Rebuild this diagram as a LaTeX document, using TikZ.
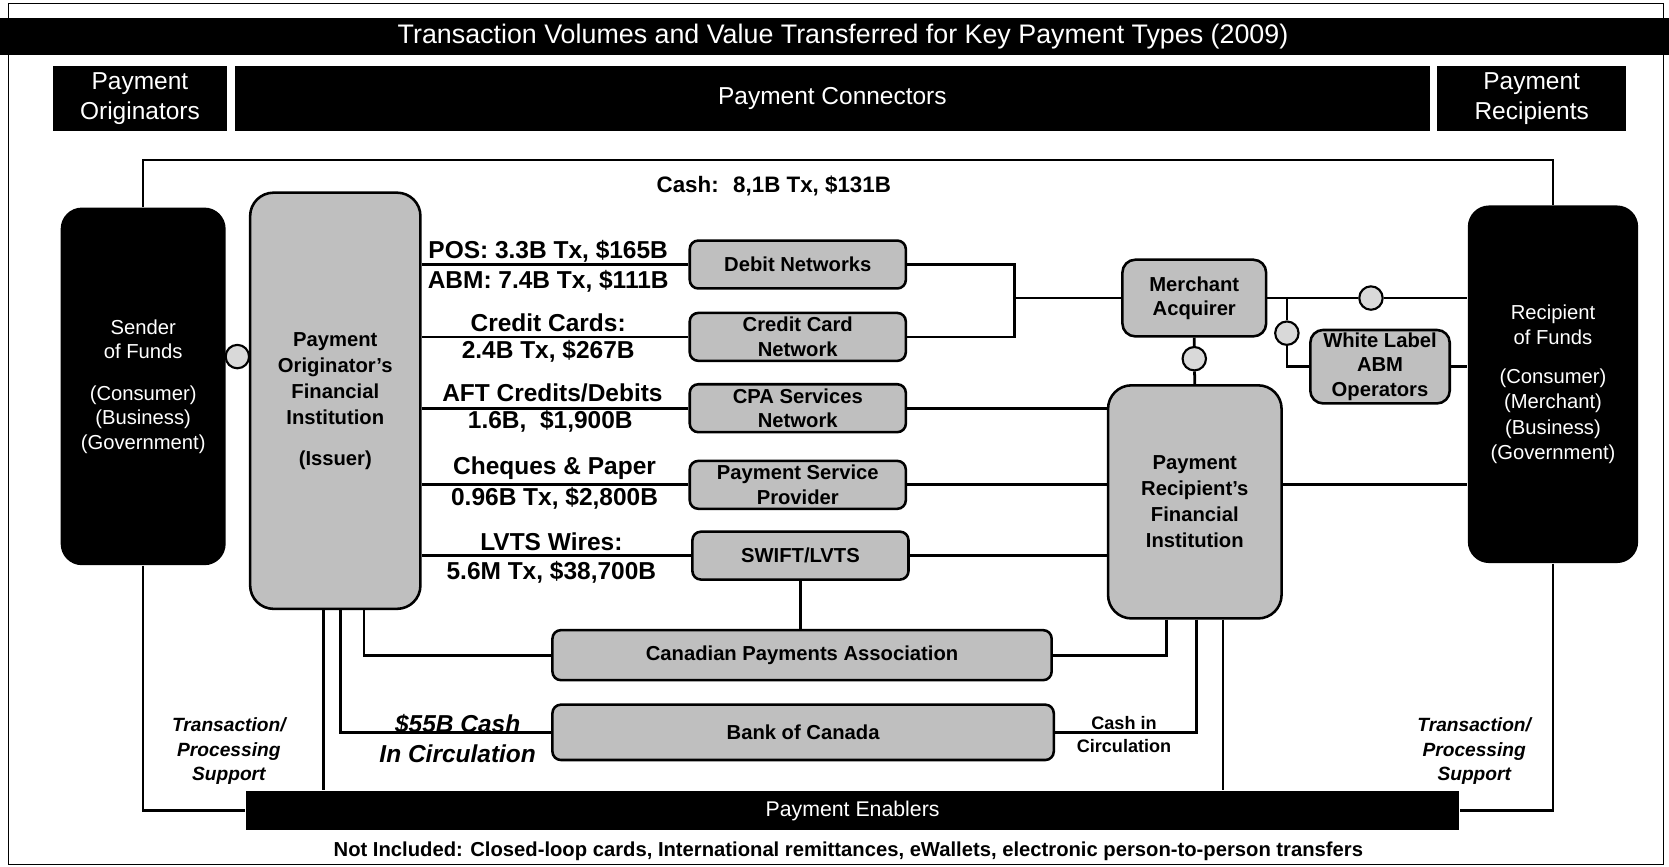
\documentclass[tikz,border=0pt]{standalone}
\usepackage{fontspec}
\setmainfont{Liberation Sans}
\begin{document}
\begin{tikzpicture}[x=0.5pt,y=-0.5pt,
  conn/.style={line width=1.3pt},
  loopline/.style={line width=1pt},
  blk/.style={fill=black,text=white,rounded corners=10pt,inner sep=0pt,align=center,font=\fontsize{9.5}{11.5}\selectfont},
  fi/.style={draw,line width=1.2pt,fill=black!25,rounded corners=11pt,inner sep=0pt,align=center,font=\bfseries\fontsize{9.5}{12.2}\selectfont},
  cbox/.style={draw,line width=1.2pt,fill=black!25,rounded corners=4pt,inner sep=0pt,align=center,minimum width=101.5pt,minimum height=22.5pt,font=\bfseries\fontsize{9.5}{11.5}\selectfont},
  hdr/.style={fill=black,text=white,inner sep=0pt,align=center,font=\fontsize{11.5}{14}\selectfont,minimum height=30.5pt},
  coin/.style={circle,draw,line width=1pt,fill=black!15,minimum size=11pt,inner sep=0pt},
  lbl/.style={font=\bfseries\fontsize{11.5}{13}\selectfont,inner sep=0pt},
  note/.style={font=\bfseries\itshape\fontsize{9}{11.5}\selectfont,align=center,inner sep=0pt},
]
\useasboundingbox (0,0) rectangle (1568,814);
\draw[line width=0.6pt] (8,3) rectangle (1563,812);

% headers
\node[fill=black,minimum width=784pt,minimum height=17.5pt,inner sep=0pt] (titlebar) at (784,34.5) {};
\node[text=white,inner sep=0pt,font=\fontsize{12.6}{14}\selectfont] (title) at (792,34.5) {Transaction Volumes and Value Transferred for Key Payment Types (2009)};
\node[hdr,minimum width=81.5pt] (horig) at (131.5,92.5) {Payment\\Originators};
\node[hdr,minimum width=561pt] (hconn) at (782,92.5) {Payment Connectors};
\node[hdr,minimum width=89pt] (hrec) at (1439,92.5) {Payment\\Recipients};

% main boxes
\node[blk,minimum width=77.5pt,minimum height=168pt] (sender) at (134.5,363) {Sender\\of Funds\\[8pt](Consumer)\\(Business)\\(Government)};
\node[blk,minimum width=80pt,minimum height=168pt,font=\fontsize{9.5}{12}\selectfont] (recipient) at (1459,361) {Recipient\\of Funds\\[6pt](Consumer)\\(Merchant)\\(Business)\\(Government)};
\node[fi,minimum width=80pt,minimum height=195.5pt] (ofi) at (315,376.5) {Payment\\Originator's\\Financial\\Institution\\[7pt](Issuer)};
\node[fi,minimum width=81.5pt,minimum height=109.5pt] (rfi) at (1122.5,471.5) {Payment\\Recipient's\\Financial\\Institution};
\node[fi,rounded corners=6pt,minimum width=67.5pt,minimum height=36pt,font=\bfseries\fontsize{9.5}{11.5}\selectfont] (merch) at (1122,280) {Merchant\\Acquirer};
\node[fi,rounded corners=6pt,minimum width=65.5pt,minimum height=34.5pt,font=\bfseries\fontsize{9.5}{11.7}\selectfont] (wl) at (1296.5,344.5) {White Label\\ABM\\Operators};

% connector boxes
\node[cbox] (debit) at (749.5,248.5) {Debit Networks};
\node[cbox] (ccn) at (749.5,316.5) {Credit Card\\Network};
\node[cbox] (cpas) at (749.5,383.5) {CPA Services\\Network};
\node[cbox] (psp) at (749.5,455.5) {Payment Service\\Provider};
\node[cbox] (swift) at (752,522) {SWIFT/LVTS};
\node[cbox,minimum width=234.5pt,minimum height=23.5pt] (cpa) at (753.5,615.5) {Canadian Payments Association};
\node[cbox,minimum width=235.5pt,minimum height=26pt] (boc) at (754.5,688) {Bank of Canada};
\node[fill=black,text=white,minimum width=570pt,minimum height=18.5pt,inner sep=0pt,font=\fontsize{10}{12}\selectfont] (enab) at (801,761.5) {Payment Enablers};

% coins
\node[coin] (c1) at (223,335) {};
\node[coin] (c2) at (1122,337) {};
\node[coin] (c3) at (1288,280) {};
\node[coin] (c4) at (1209,313) {};

\coordinate (lt) at (134.5,150);
\coordinate (rt) at (1459,150);
\coordinate (bk) at (953,280);
\coordinate (br) at (1209,280);

% loop
\draw[loopline] (sender.north) -- (lt) -- (rt) -- (recipient.north);
\draw[loopline] (sender.south) |- (enab.west);
\draw[loopline] (recipient.south) |- (enab.east);

% connectors
\draw[conn] (sender.east |- c1) -- (c1.west);
\draw[conn] (c1.east) -- (ofi.west |- c1);
\draw[conn] (ofi.east |- debit) -- (debit.west);
\draw[conn] (ofi.east |- ccn) -- (ccn.west);
\draw[conn] (ofi.east |- cpas) -- (cpas.west);
\draw[conn] (ofi.east |- psp) -- (psp.west);
\draw[conn] (ofi.east |- swift) -- (swift.west);
\draw[conn] (debit.east) -| (bk);
\draw[conn] (ccn.east) -| (bk);
\draw[conn] (bk) -- (merch.west);
\draw[conn] (merch.south) -- (c2) -- (rfi.north);
\draw[conn] (merch.east) -- (c3) -- (recipient.west |- merch.east);
\draw[conn] (br) -- (c4) |- (wl.west);
\draw[conn] (wl.east) -- (recipient.west |- wl.east);
\draw[conn] (cpas.east) -- (rfi.west |- cpas.east);
\draw[conn] (psp.east) -- (rfi.west |- psp.east);
\draw[conn] (rfi.east |- psp.east) -- (recipient.west |- psp.east);
\draw[conn] (swift.east) -- (rfi.west |- swift.east);
\draw[conn] (swift.south) -- (swift.south |- cpa.north);
\draw[conn] ([xshift=-5.5pt]ofi.south) -- ([xshift=-5.5pt]ofi.south |- enab.north);
\draw[conn] ([xshift=2.5pt]ofi.south) |- (boc.west);
\draw[conn] ([xshift=13.5pt]ofi.south) |- (cpa.west);
\draw[conn] ([xshift=-13.25pt]rfi.south) |- (cpa.east);
\draw[conn] ([xshift=0.75pt]rfi.south) |- (boc.east);
\draw[conn] ([xshift=13.25pt]rfi.south) -- ([xshift=13.25pt]rfi.south |- enab.north);

% labels
\node[font=\bfseries\fontsize{10.5}{12}\selectfont] (cashlbl) at (727,175) {Cash: \ 8,1B Tx, \$131B};
\node[lbl] (l1a) at (515,236) {POS: 3.3B Tx, \$165B};
\node[lbl] (l1b) at (515,264) {ABM: 7.4B Tx, \$111B};
\node[lbl] (l2a) at (515,303) {Credit Cards:};
\node[lbl] (l2b) at (515,330) {2.4B Tx, \$267B};
\node[lbl] (l3a) at (519,369) {AFT Credits/Debits};
\node[lbl] (l3b) at (517,396) {1.6B, \ \$1,900B};
\node[lbl] (l4a) at (521,440) {Cheques \& Paper};
\node[lbl] (l4b) at (521,468) {0.96B Tx, \$2,800B};
\node[lbl] (l5a) at (518,509) {LVTS Wires:};
\node[lbl] (l5b) at (518,538) {5.6M Tx, \$38,700B};

\node[note] (tpl) at (215,706) {Transaction/\\Processing\\Support};
\node[note] (tpr) at (1385,706) {Transaction/\\Processing\\Support};
\node[font=\bfseries\itshape\fontsize{11.5}{14}\selectfont,align=center,inner sep=0pt] (cash55) at (430,694) {\$55B Cash\\In Circulation};
\node[font=\bfseries\fontsize{8.5}{11}\selectfont,align=center,inner sep=0pt] (cic) at (1056,690) {Cash in\\Circulation};
\node[font=\bfseries\fontsize{9.5}{11}\selectfont,inner sep=0pt] (ni) at (797,800) {Not Included: Closed-loop cards, International remittances, eWallets, electronic person-to-person transfers};
\end{tikzpicture}
\end{document}
